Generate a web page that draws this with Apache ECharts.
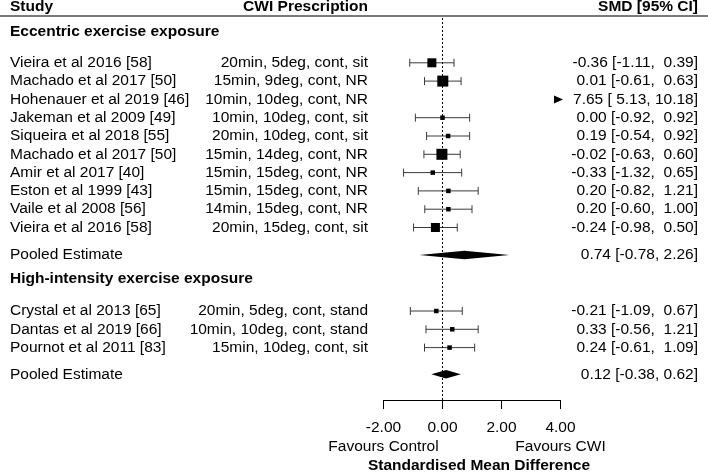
<!DOCTYPE html>
<html>
<head>
<meta charset="utf-8">
<script src="https://cdn.jsdelivr.net/npm/echarts@6/dist/echarts.min.js"></script>
<style>
  html, body { margin: 0; padding: 0; background: #fff; }
  #chart { width: 708px; height: 472px; }
</style>
</head>
<body>
<div id="chart"></div>
<script>
// Eccentric exercise exposure
const studies1 = ['Vieira et al 2016 [58]', 'Machado et al 2017 [50]', 'Hohenauer et al 2019 [46]',
  'Jakeman et al 2009 [49]', 'Siqueira et al 2018 [55]', 'Machado et al 2017 [50]',
  'Amir et al 2017 [40]', 'Eston et al 1999 [43]', 'Vaile et al 2008 [56]', 'Vieira et al 2016 [58]'];
const presc1 = ['20min, 5deg, cont, sit', '15min, 9deg, cont, NR', '10min, 10deg, cont, NR',
  '10min, 10deg, cont, sit', '20min, 10deg, cont, sit', '15min, 14deg, cont, NR',
  '15min, 15deg, cont, NR', '15min, 15deg, cont, NR', '14min, 15deg, cont, NR', '20min, 15deg, cont, sit'];
const smd1 = [-0.36, 0.01, 7.65, 0.00, 0.19, -0.02, -0.33, 0.20, 0.20, -0.24];
const lower1 = [-1.11, -0.61, 5.13, -0.92, -0.54, -0.63, -1.32, -0.82, -0.60, -0.98];
const upper1 = [0.39, 0.63, 10.18, 0.92, 0.92, 0.60, 0.65, 1.21, 1.00, 0.50];
const weight1 = [9, 11, 4, 4.5, 4.5, 11, 4.5, 4.5, 4.5, 9];

// High-intensity exercise exposure
const studies2 = ['Crystal et al 2013 [65]', 'Dantas et al 2019 [66]', 'Pournot et al 2011 [83]'];
const presc2 = ['20min, 5deg, cont, stand', '10min, 10deg, cont, stand', '15min, 10deg, cont, sit'];
const smd2 = [-0.21, 0.33, 0.24];
const lower2 = [-1.09, -0.56, -0.61];
const upper2 = [0.67, 1.21, 1.09];
const weight2 = [4.5, 4.5, 4.5];

// pooled estimates per group
const groupNames = ['Eccentric exercise exposure', 'High-intensity exercise exposure'];
const pooledSmd = [0.74, 0.12];
const pooledLower = [-0.78, -0.38];
const pooledUpper = [2.26, 0.62];

const xTicks = [-2, 0, 2, 4];
const headers = ['Study', 'CWI Prescription', 'SMD [95% CI]'];
const xLabels = ['Favours Control', 'Favours CWI'];
const xTitle = 'Standardised Mean Difference';

// layout (pixels)
const FONT = 'Liberation Sans, Arial, Helvetica, sans-serif';
const FS = 15.5;
const ROW = 18.3;
const rows1 = studies1.map((s, i) => 62.8 + i * ROW);
const pooledRow1 = 62.8 + 10.5 * ROW;
const rows2 = studies2.map((s, i) => 311 + i * ROW);
const pooledRow2 = 374.3;
const groupRows = [31.5, 279];
const headerRow = 6.8;
const COL_STUDY = 10, COL_PRESC = 368, COL_CI = 698;

const xMin = xTicks[0], xMax = xTicks[xTicks.length - 1];

// metafor-like padded CI labels
const f2 = v => v.toFixed(2);
const allEst = smd1.concat(smd2), allLo = lower1.concat(lower2), allHi = upper1.concat(upper2);
const wE = Math.max(...allEst.map(v => f2(v).length));
const wL = Math.max(...allLo.map(v => f2(v).length));
const wH = Math.max(...allHi.map(v => f2(v).length));
const ciText = (e, l, h) => f2(e).padStart(wE) + ' [' + f2(l).padStart(wL) + ', ' + f2(h).padStart(wH) + ']';
const pooledText = (e, l, h) => f2(e) + ' [' + f2(l) + ', ' + f2(h) + ']';

// text items
const texts = [];
const addText = (x, y, text, align, bold) => texts.push({ x, y, text, align, bold });
addText(COL_STUDY, headerRow, headers[0], 'left', true);
addText(COL_PRESC, headerRow, headers[1], 'right', true);
addText(COL_CI, headerRow, headers[2], 'right', true);
addText(COL_STUDY, groupRows[0], groupNames[0], 'left', true);
addText(COL_STUDY, groupRows[1], groupNames[1], 'left', true);
studies1.forEach((s, i) => {
  addText(COL_STUDY, rows1[i], s, 'left', false);
  addText(COL_PRESC, rows1[i], presc1[i], 'right', false);
  addText(COL_CI, rows1[i], ciText(smd1[i], lower1[i], upper1[i]), 'right', false);
});
studies2.forEach((s, i) => {
  addText(COL_STUDY, rows2[i], s, 'left', false);
  addText(COL_PRESC, rows2[i], presc2[i], 'right', false);
  addText(COL_CI, rows2[i], ciText(smd2[i], lower2[i], upper2[i]), 'right', false);
});
[pooledRow1, pooledRow2].forEach((y, g) => {
  addText(COL_STUDY, y, 'Pooled Estimate', 'left', false);
  addText(COL_CI, y, pooledText(pooledSmd[g], pooledLower[g], pooledUpper[g]), 'right', false);
});
addText(479, 465.3, xTitle, 'center', true);

// text placed on the effect-size scale
const scaleTexts = [
  { v: xMin, y: 446.7, text: xLabels[0] },
  { v: xMax, y: 446.7, text: xLabels[1] }
];

const studyData = [];
smd1.forEach((v, i) => studyData.push([v, rows1[i], lower1[i], upper1[i], weight1[i]]));
smd2.forEach((v, i) => studyData.push([v, rows2[i], lower2[i], upper2[i], weight2[i]]));
const pooledData = [[pooledSmd[0], pooledRow1, pooledLower[0], pooledUpper[0]],
                    [pooledSmd[1], pooledRow2, pooledLower[1], pooledUpper[1]]];

const chart = echarts.init(document.getElementById('chart'));

const option = {
  backgroundColor: '#fff',
  animation: false,
  grid: [
    { left: 383.5, width: 177, top: 18, height: 382, outerBoundsMode: 'none' },
    { left: 0, right: 0, top: 0, bottom: 0, outerBoundsMode: 'none' }
  ],
  xAxis: [
    {
      gridIndex: 0, type: 'value', min: xMin, max: xMax, interval: 2,
      axisLine: { show: true, lineStyle: { color: '#000', width: 1 } },
      axisTick: { show: true, length: 9, lineStyle: { color: '#000', width: 1 } },
      axisLabel: { color: '#000', fontSize: FS, fontFamily: FONT, margin: 20, formatter: v => v.toFixed(2) },
      splitLine: { show: false }
    },
    { gridIndex: 1, type: 'value', min: 0, max: 708, show: false }
  ],
  yAxis: [
    { gridIndex: 0, type: 'value', min: 18, max: 400, inverse: true, show: false },
    { gridIndex: 1, type: 'value', min: 0, max: 472, inverse: true, show: false }
  ],
  graphic: [
    { type: 'line', shape: { x1: 0, y1: 16, x2: 708, y2: 16 }, style: { stroke: '#7a7a7a', lineWidth: 2 }, silent: true }
  ],
  series: [
    {
      // study estimates: CI whiskers + weighted squares, arrow if off scale
      type: 'custom', xAxisIndex: 0, yAxisIndex: 0, clip: false,
      data: studyData,
      renderItem: (params, api) => {
        const y = api.coord([0, api.value(1)])[1];
        const lo = api.value(2), hi = api.value(3);
        if (lo > xMax) {
          const tip = api.coord([xMax, 0])[0] + 2.5;
          return {
            type: 'polygon',
            shape: { points: [[tip - 9, y - 4], [tip, y], [tip - 9, y + 4]] },
            style: { fill: '#000' }
          };
        }
        const xe = api.coord([api.value(0), 0])[0];
        const xl = api.coord([lo, 0])[0];
        const xh = api.coord([hi, 0])[0];
        const s = api.value(4);
        const ln = { stroke: '#3a3a3a', lineWidth: 1 };
        return {
          type: 'group',
          children: [
            { type: 'line', shape: { x1: xl, y1: y, x2: xh, y2: y }, style: ln },
            { type: 'line', shape: { x1: xl, y1: y - 4, x2: xl, y2: y + 4 }, style: ln },
            { type: 'line', shape: { x1: xh, y1: y - 4, x2: xh, y2: y + 4 }, style: ln },
            { type: 'rect', shape: { x: xe - s / 2, y: y - s / 2, width: s, height: s }, style: { fill: '#000' } }
          ]
        };
      }
    },
    {
      // pooled diamonds + reference line at 0
      type: 'custom', xAxisIndex: 0, yAxisIndex: 0, clip: false,
      data: pooledData,
      renderItem: (params, api) => {
        const y = api.coord([0, api.value(1)])[1];
        const xe = api.coord([api.value(0), 0])[0];
        const xl = api.coord([api.value(2), 0])[0];
        const xh = api.coord([api.value(3), 0])[0];
        return {
          type: 'polygon',
          shape: { points: [[xl, y], [xe, y - 4.2], [xh, y], [xe, y + 4.2]] },
          style: { fill: '#000' }
        };
      },
      markLine: {
        silent: true, symbol: 'none', animation: false,
        label: { show: false },
        lineStyle: { color: '#000', width: 1, type: [2, 2] },
        data: [{ xAxis: 0 }]
      }
    },
    {
      // labels that sit on the effect-size scale
      type: 'custom', xAxisIndex: 0, yAxisIndex: 0, clip: false,
      data: scaleTexts.map(t => [t.v, t.y]),
      renderItem: (params, api) => {
        const p = api.coord([api.value(0), api.value(1)]);
        return {
          type: 'text',
          x: p[0], y: p[1],
          style: { text: scaleTexts[params.dataIndex].text, fill: '#000', align: 'center', verticalAlign: 'middle',
                   fontSize: FS, fontFamily: FONT }
        };
      }
    },
    {
      // table text columns
      type: 'custom', xAxisIndex: 1, yAxisIndex: 1, clip: false,
      data: texts.map(t => [t.x, t.y]),
      renderItem: (params, api) => {
        const t = texts[params.dataIndex];
        const p = api.coord([api.value(0), api.value(1)]);
        return {
          type: 'text',
          x: p[0], y: p[1],
          style: { text: t.text, fill: '#000', align: t.align, verticalAlign: 'middle',
                   fontSize: FS, fontWeight: t.bold ? 'bold' : 'normal', fontFamily: FONT }
        };
      }
    }
  ]
};

chart.setOption(option);
</script>
</body>
</html>
